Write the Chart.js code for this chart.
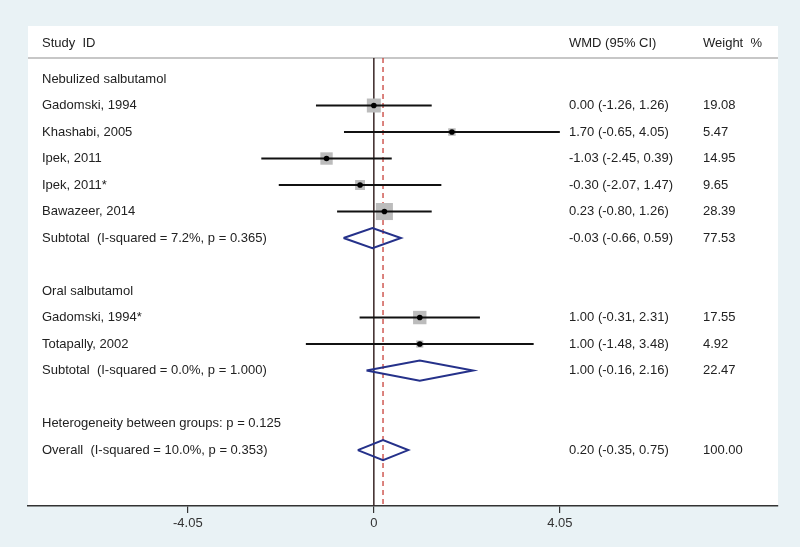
<!DOCTYPE html>
<html><head><meta charset="utf-8">
<script src="https://cdn.jsdelivr.net/npm/chart.js@4/dist/chart.umd.min.js"></script>
<style>html,body{margin:0;padding:0;background:#e9f2f5;} #wrap{width:800px;height:547px;position:relative}</style>
</head><body><div id="wrap"><canvas id="c" width="800" height="547"></canvas></div>
<script>
// ---- data ----
const rowLabels = [
  'Nebulized salbutamol',
  'Gadomski, 1994',
  'Khashabi, 2005',
  'Ipek, 2011',
  'Ipek, 2011*',
  'Bawazeer, 2014',
  'Subtotal  (I-squared = 7.2%, p = 0.365)',
  '',
  'Oral salbutamol',
  'Gadomski, 1994*',
  'Totapally, 2002',
  'Subtotal  (I-squared = 0.0%, p = 1.000)',
  '',
  'Heterogeneity between groups: p = 0.125',
  'Overall  (I-squared = 10.0%, p = 0.353)'
];
const rowKinds = ['group','study','study','study','study','study','summary','blank','group','study','study','summary','blank','note','summary'];
const estimates = [null, 0.00, 1.70, -1.03, -0.30, 0.23, -0.03, null, null, 1.00, 1.00, 1.00, null, null, 0.20];
const lowers    = [null, -1.26, -0.65, -2.45, -2.07, -0.80, -0.66, null, null, -0.31, -1.48, -0.16, null, null, -0.35];
const uppers    = [null, 1.26, 4.05, 0.39, 1.47, 1.26, 0.59, null, null, 2.31, 3.48, 2.16, null, null, 0.75];
const weights   = [null, 19.08, 5.47, 14.95, 9.65, 28.39, 77.53, null, null, 17.55, 4.92, 22.47, null, null, 100.00];
const overallEstimate = 0.20;
const tickValues = [-4.05, 0, 4.05];
const tickLabels = ['-4.05', '0', '4.05'];
const headers = ['Study  ID', 'WMD (95% CI)', 'Weight  %'];

// ---- layout constants ----
const X_MIN = -7.53, X_MAX = 8.80;
const Y_MIN = -2.0, Y_MAX = 16.11;
const HEADER_ROW = -1.36, SEP_ROW = -0.79;
const FONT = '13px "Liberation Sans", Arial, sans-serif';
const TEXT_COLOR = '#222';

const datasets = [];
// reference lines
datasets.push({type:'scatter', data:[{x:0,y:SEP_ROW},{x:0,y:Y_MAX}], showLine:true, borderColor:'#3a2626', borderWidth:1.5, pointRadius:0, order:10});
datasets.push({type:'scatter', data:[{x:overallEstimate,y:SEP_ROW},{x:overallEstimate,y:Y_MAX}], showLine:true, borderColor:'#c8403a', borderWidth:1.3, borderDash:[5,4], pointRadius:0, order:9});

const sqData = [], sqRadius = [], dotData = [];
rowKinds.forEach((k, r) => {
  if (k === 'study') {
    datasets.push({type:'scatter', data:[{x:lowers[r],y:r},{x:uppers[r],y:r}], showLine:true, borderColor:'#111', borderWidth:2, pointRadius:0, order:2});
    sqData.push({x:estimates[r], y:r});
    sqRadius.push(3.2 * Math.sqrt(weights[r]) / Math.SQRT2);
    dotData.push({x:estimates[r], y:r});
  } else if (k === 'summary') {
    const h = 0.38;
    datasets.push({type:'scatter', data:[
      {x:lowers[r],y:r},{x:estimates[r],y:r-h},{x:uppers[r],y:r},{x:estimates[r],y:r+h},{x:lowers[r],y:r}
    ], showLine:true, borderColor:'#25318a', borderWidth:2, pointRadius:0, order:2});
  }
});
datasets.push({type:'scatter', data:sqData, pointStyle:'rect', pointRadius:sqRadius, pointBackgroundColor:'#bcbcbc', pointBorderWidth:0, pointBorderColor:'rgba(0,0,0,0)', order:5});
datasets.push({type:'scatter', data:dotData, pointStyle:'circle', pointRadius:2.8, pointBackgroundColor:'#000', pointBorderWidth:0, order:0});

const panelPlugin = {
  id:'panel',
  beforeDraw(chart) {
    const {ctx, chartArea:a} = chart;
    ctx.save();
    ctx.fillStyle = '#e9f2f5';
    ctx.fillRect(0,0,chart.width,chart.height);
    ctx.fillStyle = '#ffffff';
    ctx.fillRect(a.left, a.top, a.right-a.left, a.bottom-a.top);
    const ys = chart.scales.y.getPixelForValue(SEP_ROW);
    ctx.strokeStyle = '#b4b4b4';
    ctx.lineWidth = 1.5;
    ctx.beginPath(); ctx.moveTo(a.left, ys); ctx.lineTo(a.right, ys); ctx.stroke();
    ctx.restore();
  },
  afterDatasetsDraw(chart) {
    const {ctx} = chart;
    const y = chart.scales.y;
    ctx.save();
    ctx.font = FONT;
    ctx.fillStyle = TEXT_COLOR;
    ctx.textBaseline = 'middle';
    ctx.textAlign = 'left';
    const hy = y.getPixelForValue(HEADER_ROW);
    ctx.fillText(headers[0], 42, hy);
    ctx.fillText(headers[1], 569, hy);
    ctx.fillText(headers[2], 703, hy);
    rowLabels.forEach((lab, r) => {
      const py = y.getPixelForValue(r);
      if (lab) ctx.fillText(lab, 42, py);
      if (estimates[r] !== null) {
        ctx.fillText(estimates[r].toFixed(2) + ' (' + lowers[r].toFixed(2) + ', ' + uppers[r].toFixed(2) + ')', 569, py);
        ctx.fillText(weights[r].toFixed(2), 703, py);
      }
    });
    ctx.restore();
  }
};

new Chart(document.getElementById('c'), {
  type:'scatter',
  data:{datasets},
  options:{
    responsive:false, animation:false,
    layout:{padding:{left:28, right:22, top:26, bottom:15}},
    plugins:{legend:{display:false}, tooltip:{enabled:false}},
    scales:{
      x:{type:'linear', min:X_MIN, max:X_MAX,
        afterBuildTicks:s=>{ s.ticks = tickValues.map(v=>({value:v})); },
        afterFit:s=>{ s.height = 26; },
        ticks:{callback:(v,i)=>tickLabels[i], color:'#333', font:{family:'"Liberation Sans", Arial, sans-serif', size:13}, padding:3, maxRotation:0, autoSkip:false},
        grid:{drawOnChartArea:false, drawTicks:true, tickLength:7, color:'#333', lineWidth:1.2},
        border:{display:true, color:'#333', width:1.5}
      },
      y:{type:'linear', display:false, reverse:true, min:Y_MIN, max:Y_MAX}
    }
  },
  plugins:[panelPlugin]
});
</script></body></html>
